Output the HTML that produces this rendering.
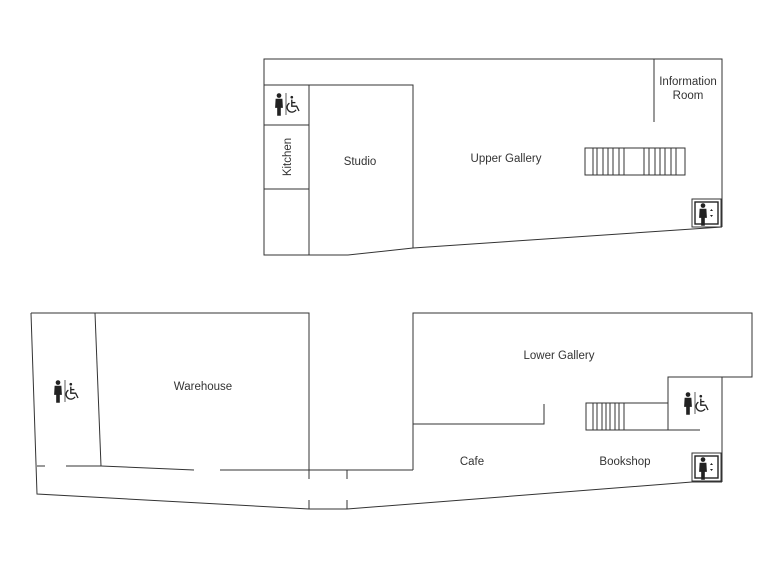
<!DOCTYPE html>
<html><head><meta charset="utf-8"><style>
html,body{margin:0;padding:0;background:#fff;}
svg{display:block;}
text{font-family:"Liberation Sans",sans-serif;font-size:11.5px;fill:#333;}
</style></head><body>
<svg width="780" height="564" viewBox="0 0 780 564" xmlns="http://www.w3.org/2000/svg">
<defs>
<g id="man">
<circle cx="0" cy="-6.5" r="1.8" fill="#222"/>
<path d="M-2.6,-4 H2.6 L3,3 H1.4 V9 H-1.4 V3 H-3 Z" fill="#222"/>
</g>
<g id="wc" fill="none" stroke="#222" stroke-width="1.1">
<circle cx="-1" cy="-6.5" r="1.1" fill="#222" stroke="none"/>
<path d="M-1,-4.5 V1 H3 L5,5"/>
<path d="M-1,-2 H2"/>
<path d="M-3,-1.5 A4,4 0 1 0 2.5,4"/>
</g>
<g id="toilet">
<use href="#man" transform="scale(1.3)"/>
<line x1="7" y1="-11" x2="7" y2="11" stroke="#333" stroke-width="0.8"/>
<use href="#wc" transform="translate(14,1) scale(1.2)"/>
</g>
<g id="lift">
<rect x="0" y="0" width="29" height="28" fill="none" stroke="#333" stroke-width="1"/>
<rect x="3" y="3" width="23" height="22" fill="none" stroke="#222" stroke-width="1.4"/>
<use href="#man" transform="translate(11,15) scale(1.3)"/>
<path d="M18,12 l1.5,-2 l1.5,2 Z M18,16 l1.5,2 l1.5,-2 Z" fill="#222"/>
</g>
</defs>
<g fill="none" stroke="#333" stroke-width="1">
<polyline points="722,227 722,59 264,59 264,255 348,255 413,248 722,227"/>
<polyline points="264,85 413,85 413,248"/>
<line x1="309" y1="85" x2="309" y2="255"/>
<line x1="264" y1="125" x2="309" y2="125"/>
<line x1="264" y1="189" x2="309" y2="189"/>
<line x1="654" y1="59" x2="654" y2="122"/>
<rect x="585" y="148" width="100" height="27"/>
<path d="M593,148V175M597,148V175M603,148V175M608,148V175M613,148V175M619,148V175M624,148V175M644,148V175M649,148V175M655,148V175M660,148V175M665,148V175M671,148V175M676,148V175"/>
<polyline points="31,313 309,313 309,479"/>
<polyline points="31,313 37,494 309,509 347,509 692,482 722,482"/>
<line x1="95" y1="313" x2="101" y2="466"/>
<line x1="37" y1="466" x2="45" y2="466"/>
<line x1="66" y1="466" x2="101" y2="466"/>
<line x1="101" y1="466" x2="194" y2="470"/>
<line x1="220" y1="470" x2="413" y2="470"/>
<line x1="309" y1="500" x2="309" y2="509"/>
<line x1="347" y1="470" x2="347" y2="479"/>
<line x1="347" y1="500" x2="347" y2="509"/>
<polyline points="413,470 413,313 752,313 752,377 668,377 668,430"/>
<line x1="722" y1="377" x2="722" y2="482"/>
<polyline points="413,424 544,424 544,404"/>
<polyline points="700,430 586,430 586,403 668,403"/>
<path d="M593,403V430M597,403V430M602,403V430M606,403V430M610,403V430M615,403V430M619,403V430M624,403V430"/>
</g>
<use href="#toilet" x="279" y="104"/>
<use href="#toilet" x="58" y="391"/>
<use href="#toilet" x="688" y="403"/>
<use href="#lift" x="692" y="199"/>
<use href="#lift" x="692" y="453"/>
<text x="506" y="162" text-anchor="middle">Upper Gallery</text>
<text x="360" y="165" text-anchor="middle">Studio</text>
<text x="688" y="85" text-anchor="middle">Information</text>
<text x="688" y="99" text-anchor="middle">Room</text>
<text x="0" y="0" text-anchor="middle" transform="translate(291,157) rotate(-90)">Kitchen</text>
<text x="203" y="390" text-anchor="middle">Warehouse</text>
<text x="559" y="359" text-anchor="middle">Lower Gallery</text>
<text x="472" y="465" text-anchor="middle">Cafe</text>
<text x="625" y="465" text-anchor="middle">Bookshop</text>
</svg>
</body></html>
